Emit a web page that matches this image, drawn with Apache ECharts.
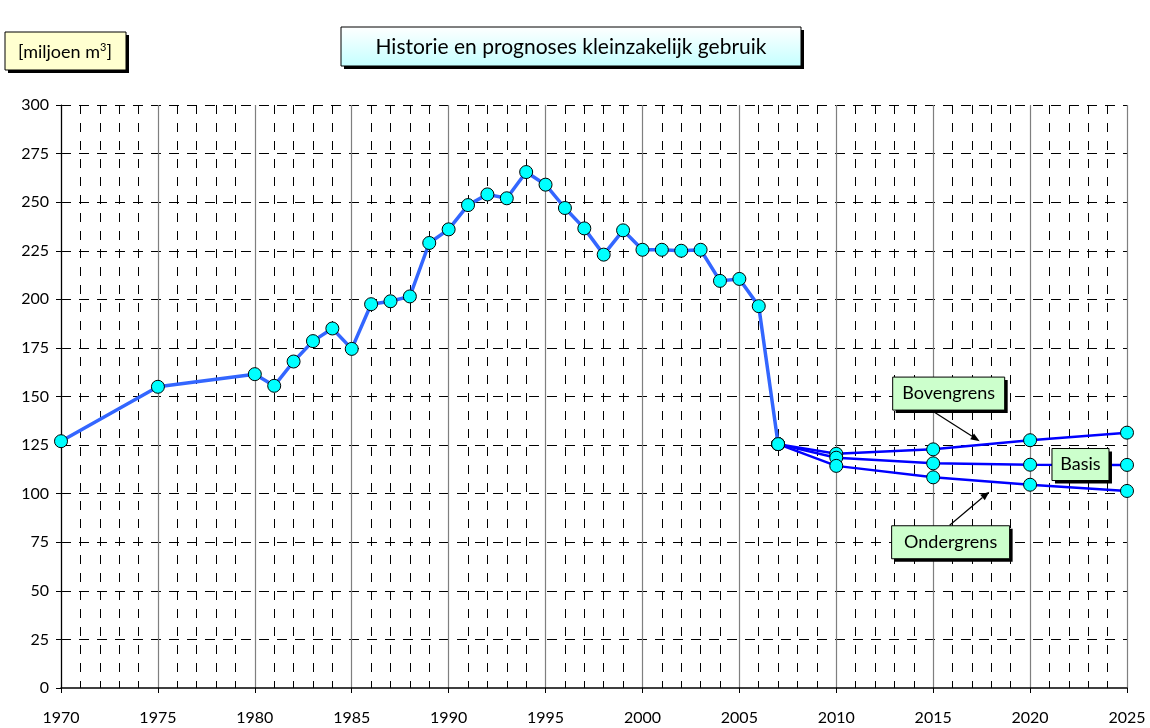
<!DOCTYPE html>
<html>
<head>
<meta charset="utf-8">
<script src="https://cdn.jsdelivr.net/npm/echarts@6/dist/echarts.min.js"></script>
<style>
  html, body { margin: 0; padding: 0; background: #fff; }
  #chart { width: 1150px; height: 728px; }
</style>
</head>
<body>
<div id="chart"></div>
<script>
const FONT = "'Comic Sans MS', 'Lato', 'DejaVu Sans', sans-serif"

// history
const histYears = [1970, 1975, 1980, 1981, 1982, 1983, 1984, 1985, 1986, 1987, 1988, 1989, 1990,
  1991, 1992, 1993, 1994, 1995, 1996, 1997, 1998, 1999, 2000, 2001, 2002, 2003, 2004, 2005, 2006, 2007]
const histValues = [127, 155, 161.5, 155.5, 168, 178.5, 185, 174.5, 197.5, 199, 201.5, 229, 236,
  248.5, 254, 252, 265.5, 259, 247, 236.5, 223, 235.5, 225.5, 225.5, 225, 225.5, 209.5, 210.5, 196.5, 125.5]

// forecasts
const progYears = [2007, 2010, 2015, 2020, 2025]
const upperValues = [125.5, 120.5, 122.8, 127.5, 131.4]
const basisValues = [125.5, 118.5, 115.6, 114.9, 114.8]
const lowerValues = [125.5, 114.3, 108.4, 104.6, 101.4]

const toPairs = (xs, ys) => xs.map((x, i) => [x, ys[i]])

const chart = echarts.init(document.getElementById('chart'))

const markerStyle = { color: '#00ffff', borderColor: '#000', borderWidth: 1 }

function forecast(name, values) {
  return {
    name,
    type: 'line',
    data: toPairs(progYears, values),
    symbol: 'circle',
    symbolSize: 13,
    itemStyle: markerStyle,
    lineStyle: { color: '#0000ff', width: 2.5 },
    z: 3
  }
}

const option = {
  backgroundColor: '#fff',
  animation: false,
  grid: { left: 61, right: 23, top: 105, bottom: 40 },
  xAxis: {
    type: 'value',
    min: 1970,
    max: 2025,
    interval: 5,
    axisLine: { show: true, onZero: false, lineStyle: { color: '#000', width: 1.5 } },
    axisTick: { show: true, length: 5, lineStyle: { color: '#000' } },
    axisLabel: { color: '#000', fontSize: 16, fontFamily: FONT, margin: 22, formatter: (v) => String(v) },
    splitLine: { show: true, lineStyle: { color: '#7f7f7f', width: 1.2 } },
    minorTick: { show: true, splitNumber: 5, length: 0 },
    minorSplitLine: { show: true, lineStyle: { color: '#000', type: [9, 9], width: 1 } }
  },
  yAxis: {
    type: 'value',
    min: 0,
    max: 300,
    interval: 25,
    axisLine: { show: true, lineStyle: { color: '#000', width: 1.2 } },
    axisTick: { show: true, length: 5, lineStyle: { color: '#000' } },
    axisLabel: { color: '#000', fontSize: 16, fontFamily: FONT, margin: 12 },
    splitLine: { show: true, showMinLine: false, lineStyle: { color: '#000', type: [10, 8], width: 1 } }
  },
  series: [
    {
      name: 'Historie',
      type: 'line',
      data: toPairs(histYears, histValues),
      symbol: 'circle',
      symbolSize: 13,
      itemStyle: markerStyle,
      lineStyle: { color: '#3366ff', width: 3.5 },
      z: 4
    },
    forecast('Bovengrens', upperValues),
    forecast('Basis', basisValues),
    forecast('Ondergrens', lowerValues)
  ]
}

chart.setOption(option)

// boxes and arrows, placed from data coords
function px(x, y) { return chart.convertToPixel({ gridIndex: 0 }, [x, y]) }

function labelBox(cx, cy, w, h, text) {
  return {
    type: 'group',
    children: [
      { type: 'rect', shape: { x: cx - w / 2 + 3, y: cy - h / 2 + 3, width: w, height: h }, style: { fill: '#000' }, z: 10 },
      { type: 'rect', shape: { x: cx - w / 2, y: cy - h / 2, width: w, height: h }, style: { fill: '#ccffcc', stroke: '#000', lineWidth: 1 }, z: 11 },
      { type: 'text', x: cx, y: cy, style: { text, fill: '#000', font: '18px ' + FONT, align: 'center', verticalAlign: 'middle' }, z: 12 }
    ]
  }
}

function arrow(from, to) {
  const [x1, y1] = from, [x2, y2] = to
  const ang = Math.atan2(y2 - y1, x2 - x1)
  const L = 9, W = 3.5
  const bx = x2 - L * Math.cos(ang), by = y2 - L * Math.sin(ang)
  return {
    type: 'group',
    children: [
      { type: 'line', shape: { x1, y1, x2: bx, y2: by }, style: { stroke: '#000', lineWidth: 1.2 }, z: 12 },
      { type: 'polygon', shape: { points: [[x2, y2], [bx - W * Math.sin(ang), by + W * Math.cos(ang)], [bx + W * Math.sin(ang), by - W * Math.cos(ang)]] }, style: { fill: '#000' }, z: 12 }
    ]
  }
}

const bov = px(2015.8, 151.5)
const bas = px(2022.6, 115)
const ond = px(2015.9, 75)

chart.setOption({
  graphic: [
    // title box
    { type: 'rect', shape: { x: 344, y: 30, width: 460, height: 39 }, style: { fill: '#000' }, z: 10 },
    {
      type: 'rect', shape: { x: 341, y: 27, width: 460, height: 39 },
      style: {
        stroke: '#000', lineWidth: 1,
        fill: new echarts.graphic.LinearGradient(0, 0, 0, 1, [
          { offset: 0, color: '#ffffff' }, { offset: 1, color: '#c4ffff' }
        ])
      },
      z: 11
    },
    { type: 'text', x: 571, y: 47, style: { text: 'Historie en prognoses kleinzakelijk gebruik', fill: '#000', font: '21px ' + FONT, align: 'center', verticalAlign: 'middle' }, z: 12 },
    // unit box
    { type: 'rect', shape: { x: 8, y: 35, width: 121, height: 38 }, style: { fill: '#000' }, z: 10 },
    { type: 'rect', shape: { x: 5, y: 32, width: 121, height: 38 }, style: { fill: '#ffffd0', stroke: '#000', lineWidth: 1 }, z: 11 },
    {
      type: 'text', x: 65, y: 52,
      style: {
        text: '{a|[miljoen m}{s|3}{a|]}',
        align: 'center', verticalAlign: 'middle',
        rich: {
          a: { fontSize: 18, fontFamily: FONT, color: '#000' },
          s: { fontSize: 11, fontFamily: FONT, color: '#000', verticalAlign: 'top', padding: [0, 0, 10, 0] }
        }
      },
      z: 12
    },
    labelBox(bov[0], bov[1], 112, 33, 'Bovengrens'),
    labelBox(bas[0], bas[1], 57, 32, 'Basis'),
    labelBox(ond[0], ond[1], 118, 33, 'Ondergrens'),
    arrow([bov[0] - 17, bov[1] + 17], px(2017.4, 127)),
    arrow([ond[0] - 1, ond[1] - 17], px(2017.9, 101))
  ]
})
</script>
</body>
</html>
